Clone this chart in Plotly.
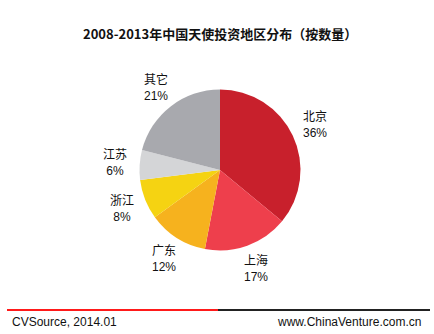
import math
import plotly.graph_objects as go

# Data
regions = ["北京", "上海", "广东", "浙江", "江苏", "其它"]
shares = [36, 17, 12, 8, 6, 21]
colors = ["#c8202c", "#ee3f4c", "#f6b21e", "#f5d312", "#d4d5d7", "#a8a9ae"]
title_text = "2008-2013年中国天使投资地区分布（按数量）"
source_text = "CVSource, 2014.01"
site_text = "www.ChinaVenture.com.cn"

W, H = 434, 334
CX, CY, R = 220, 170, 80.5
LABEL_R = 105

fig = go.Figure(go.Pie(
    labels=regions,
    values=shares,
    marker=dict(colors=colors, line=dict(width=0)),
    sort=False,
    direction="clockwise",
    rotation=0,
    textinfo="none",
    hoverinfo="label+percent",
    showlegend=False,
    domain=dict(x=[(CX - R) / W, (CX + R) / W],
                y=[1 - (CY + R) / H, 1 - (CY - R) / H]),
))

total = sum(shares)
annotations = []
cum = 0
for name, v in zip(regions, shares):
    mid = (cum + v / 2) / total * 2 * math.pi
    cum += v
    px = CX + LABEL_R * math.sin(mid)
    py = CY - LABEL_R * math.cos(mid)
    pct = round(v / total * 100)
    annotations.append(dict(
        x=px / W, y=1 - py / H, xref="paper", yref="paper",
        text=f"{name}<br>{pct}%", showarrow=False, align="center",
        xanchor="center", yanchor="middle",
        font=dict(family="Liberation Sans, Noto Sans CJK SC, Arial", size=12, color="#111111"),
    ))

annotations.append(dict(
    x=220 / W, y=1 - 33 / H, xref="paper", yref="paper", text=f"<b>{title_text}</b>",
    showarrow=False, xanchor="center", yanchor="middle",
    font=dict(family="Noto Sans CJK SC, sans-serif", size=13, color="#111111"),
))
annotations.append(dict(
    x=10 / W, y=1 - 322 / H, xref="paper", yref="paper", text=source_text,
    showarrow=False, xanchor="left", yanchor="middle",
    font=dict(family="Liberation Sans, Arial", size=12, color="#111111"),
))
annotations.append(dict(
    x=423 / W, y=1 - 322 / H, xref="paper", yref="paper", text=site_text,
    showarrow=False, xanchor="right", yanchor="middle",
    font=dict(family="Liberation Sans, Arial", size=12, color="#111111"),
))

shapes = [
    dict(type="line", xref="paper", yref="paper", x0=7 / W, x1=218 / W,
         y0=1 - 310 / H, y1=1 - 310 / H, line=dict(color="#ff1a1a", width=2)),
    dict(type="line", xref="paper", yref="paper", x0=218 / W, x1=430 / W,
         y0=1 - 310 / H, y1=1 - 310 / H, line=dict(color="#222222", width=2)),
]

fig.update_layout(
    width=W, height=H,
    margin=dict(l=0, r=0, t=0, b=0),
    paper_bgcolor="white", plot_bgcolor="white",
    annotations=annotations, shapes=shapes,
)

fig.write_html("out.html", config={"displayModeBar": False})
